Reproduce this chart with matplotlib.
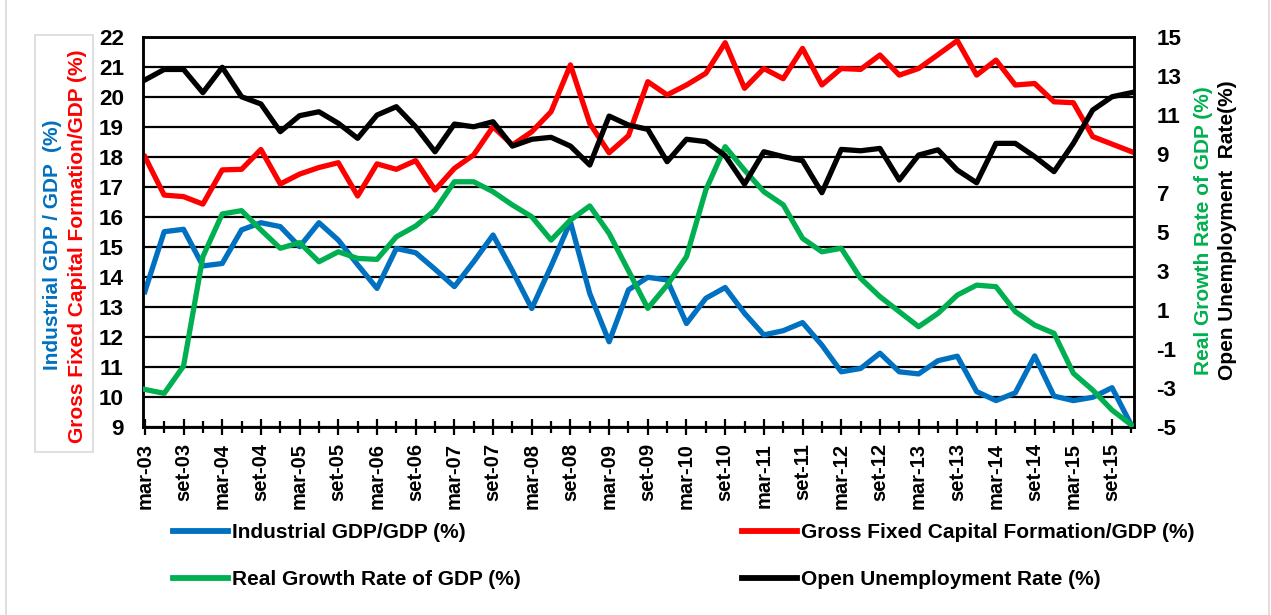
import matplotlib
matplotlib.use('Agg')
import matplotlib.pyplot as plt
from matplotlib.patches import Rectangle
from matplotlib.lines import Line2D
from matplotlib.ticker import FixedLocator, NullFormatter

plt.rcParams['font.family'] = ['Liberation Sans', 'DejaVu Sans']
plt.rcParams['font.weight'] = 'bold'
plt.rcParams['axes.unicode_minus'] = False

# ---------------- data ----------------
quarters = ['mar-03', 'jun-03', 'set-03', 'dez-03', 'mar-04', 'jun-04', 'set-04', 'dez-04',
            'mar-05', 'jun-05', 'set-05', 'dez-05', 'mar-06', 'jun-06', 'set-06', 'dez-06',
            'mar-07', 'jun-07', 'set-07', 'dez-07', 'mar-08', 'jun-08', 'set-08', 'dez-08',
            'mar-09', 'jun-09', 'set-09', 'dez-09', 'mar-10', 'jun-10', 'set-10', 'dez-10',
            'mar-11', 'jun-11', 'set-11', 'dez-11', 'mar-12', 'jun-12', 'set-12', 'dez-12',
            'mar-13', 'jun-13', 'set-13', 'dez-13', 'mar-14', 'jun-14', 'set-14', 'dez-14',
            'mar-15', 'jun-15', 'set-15', 'dez-15']

tick_labels = ['mar-03', 'set-03', 'mar-04', 'set-04', 'mar-05', 'set-05', 'mar-06', 'set-06',
               'mar-07', 'set-07', 'mar-08', 'set-08', 'mar-09', 'set-09', 'mar-10', 'set-10',
               'mar-11', 'set-11', 'mar-12', 'set-12', 'mar-13', 'set-13', 'mar-14', 'set-14',
               'mar-15', 'set-15']

industrial_gdp = [13.5, 15.5, 15.58, 14.36, 14.44, 15.56, 15.8, 15.67, 15.0, 15.8,
                  15.22, 14.4, 13.61, 14.94, 14.8, 14.25, 13.67, 14.5, 15.39, 14.2,
                  12.94, 14.35, 15.83, 13.44, 11.83, 13.56, 13.98, 13.89, 12.44, 13.28,
                  13.64, 12.78, 12.06, 12.2, 12.47, 11.72, 10.83, 10.94, 11.45, 10.83,
                  10.76, 11.2, 11.35, 10.17, 9.87, 10.13, 11.36, 10.02, 9.87, 9.98,
                  10.3, 9.05]

gfcf_gdp = [18.0, 16.72, 16.67, 16.42, 17.56, 17.58, 18.24, 17.09, 17.42, 17.64,
            17.8, 16.69, 17.76, 17.58, 17.87, 16.89, 17.61, 18.06, 19.0, 18.39,
            18.83, 19.5, 21.06, 19.11, 18.13, 18.7, 20.5, 20.06, 20.39, 20.78,
            21.8, 20.28, 20.94, 20.6, 21.61, 20.39, 20.94, 20.91, 21.39, 20.72,
            20.94, 21.4, 21.87, 20.72, 21.22, 20.39, 20.44, 19.83, 19.8, 18.67,
            18.42, 18.17]

real_growth = [-3.09, -3.29, -1.89, 3.72, 5.91, 6.08, 5.09, 4.15, 4.44, 3.46,
               3.97, 3.63, 3.58, 4.74, 5.29, 6.11, 7.56, 7.56, 7.05, 6.37,
               5.77, 4.57, 5.6, 6.32, 4.91, 3.0, 1.07, 2.26, 3.72, 7.14,
               9.36, 8.16, 7.05, 6.38, 4.66, 3.97, 4.15, 2.61, 1.67, 0.9,
               0.13, 0.81, 1.75, 2.26, 2.18, 0.9, 0.21, -0.21, -2.26, -3.12,
               -4.15, -4.91]

unemployment = [12.78, 13.32, 13.32, 12.13, 13.43, 11.92, 11.55, 10.13, 10.95, 11.15,
                10.56, 9.79, 10.98, 11.41, 10.38, 9.10, 10.52, 10.38, 10.64, 9.39,
                9.74, 9.84, 9.39, 8.42, 10.93, 10.47, 10.25, 8.59, 9.74, 9.62,
                8.9, 7.44, 9.10, 8.85, 8.64, 7.0, 9.22, 9.15, 9.27, 7.65,
                8.93, 9.2, 8.16, 7.51, 9.53, 9.53, 8.85, 8.08, 9.53, 11.24,
                11.92, 12.13]

series_labels = ['Industrial GDP/GDP (%)', 'Gross Fixed Capital Formation/GDP (%)',
                 'Real Growth Rate of GDP (%)', 'Open Unemployment Rate (%)']
left_ticks = list(range(9, 23))
right_ticks = list(range(-5, 16, 2))

# ---------------- figure ----------------
W, H = 1271, 615
fig = plt.figure(figsize=(W / 100, H / 100), dpi=100)
fig.patch.set_facecolor('white')

def fx(px):
    return px / W

def fy(py):
    return 1 - py / H

ax_l, ax_r, ax_t, ax_b = 143.3, 1134.3, 36.7, 426.7
ax = fig.add_axes([fx(ax_l), fy(ax_b), fx(ax_r - ax_l), (ax_b - ax_t) / H])
ax2 = ax.twinx()

x = list(range(len(quarters)))
LW = 3.8
l_ind, = ax.plot(x, industrial_gdp, color='#0070C0', lw=LW, zorder=3)
l_gfcf, = ax.plot(x, gfcf_gdp, color='#FF0000', lw=LW, zorder=3)
l_gr, = ax2.plot(x, real_growth, color='#00B050', lw=LW, zorder=3)
l_un, = ax2.plot(x, unemployment, color='#000000', lw=LW, zorder=3)

ax.set_xlim(-0.08, 51.15)
ax.set_ylim(9, 22)
ax2.set_ylim(-5, 15)
ax.set_yticks(left_ticks)
ax2.set_yticks(right_ticks)
ax.set_axisbelow(True)
ax.yaxis.grid(True, color='black', lw=1.6)
ax.xaxis.grid(False)

ax.xaxis.set_major_locator(FixedLocator(list(range(0, 52, 2))))
ax.set_xticklabels(tick_labels, rotation=90, fontsize=14.5, fontweight='bold')
ax.xaxis.set_minor_locator(FixedLocator(list(range(1, 52, 2))))
ax.xaxis.set_minor_formatter(NullFormatter())
ax.tick_params(axis='x', which='major', direction='inout', length=12, width=1.6, pad=6)
ax.tick_params(axis='x', which='minor', direction='inout', length=9, width=1.6)

ax.tick_params(axis='y', length=0, pad=14, labelsize=16.2)
ax2.tick_params(axis='y', length=0, pad=16, labelsize=16.2)
for t in ax.get_yticklabels() + ax2.get_yticklabels():
    t.set_fontweight('bold')

for a in (ax, ax2):
    for s in a.spines.values():
        s.set_color('black')
        s.set_linewidth(1.8)

# ---------------- axis titles ----------------
fig.text(fx(53), fy(245), 'Industrial GDP / GDP  (%)', rotation=90, ha='center', va='center',
         color='#0070C0', fontsize=15, fontweight='bold')
fig.text(fx(78), fy(246), 'Gross Fixed Capital Formation/GDP (%)', rotation=90, ha='center',
         va='center', color='#FF0000', fontsize=15, fontweight='bold')
fig.patches.append(Rectangle((fx(35), fy(452)), fx(58), (452 - 34.7) / H, transform=fig.transFigure,
                             fill=False, edgecolor='#D9D9D9', lw=1.2))

fig.text(fx(1203.5), fy(231), 'Real Growth Rate of GDP (%)', rotation=90, ha='center', va='center',
         color='#00B050', fontsize=15, fontweight='bold')
fig.text(fx(1227.5), fy(230), 'Open Unemployment  Rate(%)', rotation=90, ha='center', va='center',
         color='black', fontsize=15, fontweight='bold')

# outer frame
fig.lines.append(Line2D([fx(6), fx(6)], [0, 1], transform=fig.transFigure, color='#D9D9D9', lw=1.2))
fig.lines.append(Line2D([fx(1268.5), fx(1268.5)], [0, 1], transform=fig.transFigure, color='#D9D9D9', lw=1.2))

# ---------------- legend ----------------
leg = fig.legend([l_ind, l_gr, l_gfcf, l_un],
                 [series_labels[0], series_labels[2], series_labels[1], series_labels[3]],
                 ncol=2, loc='upper left', bbox_to_anchor=(fx(173), fy(523)),
                 frameon=False, borderpad=0, borderaxespad=0, handlelength=2.65,
                 handletextpad=0.2, columnspacing=10.6, labelspacing=1.34,
                 prop={'size': 15, 'weight': 'bold'})
for h in leg.legend_handles:
    h.set_linewidth(4.2)

fig.savefig('out.png', dpi=100, facecolor='white')
